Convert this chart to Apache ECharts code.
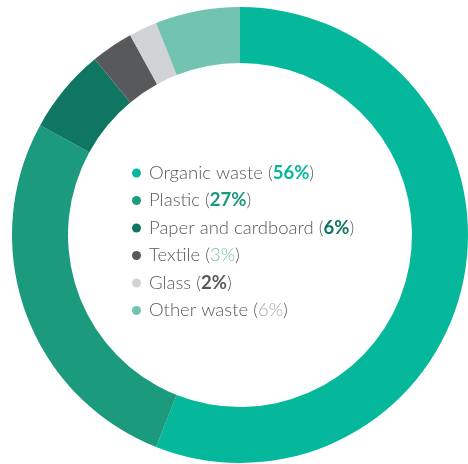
<!DOCTYPE html>
<html>
<head>
<meta charset="utf-8">
<script src="https://cdn.jsdelivr.net/npm/echarts@6/dist/echarts.min.js"></script>
<style>html,body{margin:0;padding:0;background:#fff;}#c{width:468px;height:464px;}</style>
</head>
<body>
<div id="c"></div>
<script>
var categories = ['Organic waste', 'Plastic', 'Paper and cardboard', 'Textile', 'Glass', 'Other waste'];
var values = [56, 27, 6, 3, 2, 6];
var sliceColors = ['#05b89b', '#1b9a7e', '#0e7661', '#58595b', '#d1d3d4', '#73c3b1'];
var percentColors = ['#05b89b', '#1b9a7e', '#0e7661', '#73c3b1', '#58595b', '#a7a9ac'];
var percentBold = [true, true, true, false, true, false];

var FS = 18.5;
var rich = {
  a: { color: '#58595b', fontSize: FS, fontFamily: 'Lato', fontWeight: 300, lineHeight: 20, padding: [0, 0, 0, 3] },
  n: { color: '#58595b', fontSize: FS, fontFamily: 'Lato', fontWeight: 300, lineHeight: 20 }
};
categories.forEach(function (c, i) {
  rich['p' + i] = { color: percentColors[i], fontSize: FS, fontFamily: 'Lato', fontWeight: percentBold[i] ? 'bold' : 300, lineHeight: 20 };
});

var chart = echarts.init(document.getElementById('c'));
chart.setOption({
  animation: false,
  legend: {
    orient: 'vertical',
    left: 132,
    top: 163,
    padding: 0,
    itemWidth: 9,
    itemHeight: 9,
    itemGap: 7.5,
    icon: 'circle',
    selectedMode: false,
    textStyle: { rich: rich, fontFamily: 'Lato', fontSize: FS, fontWeight: 300, color: '#58595b', lineHeight: 20 },
    formatter: function (name) {
      var i = categories.indexOf(name);
      return '{a|' + name + ' (}{p' + i + '|' + values[i] + '%}{n|)}';
    },
    data: categories
  },
  series: [{
    type: 'pie',
    center: [240, 235],
    radius: [172, 228],
    startAngle: 90,
    clockwise: true,
    silent: true,
    label: { show: false },
    labelLine: { show: false },
    itemStyle: { borderWidth: 0 },
    data: categories.map(function (c, i) {
      return { name: c, value: values[i], itemStyle: { color: sliceColors[i] } };
    })
  }]
});
</script>
</body>
</html>
